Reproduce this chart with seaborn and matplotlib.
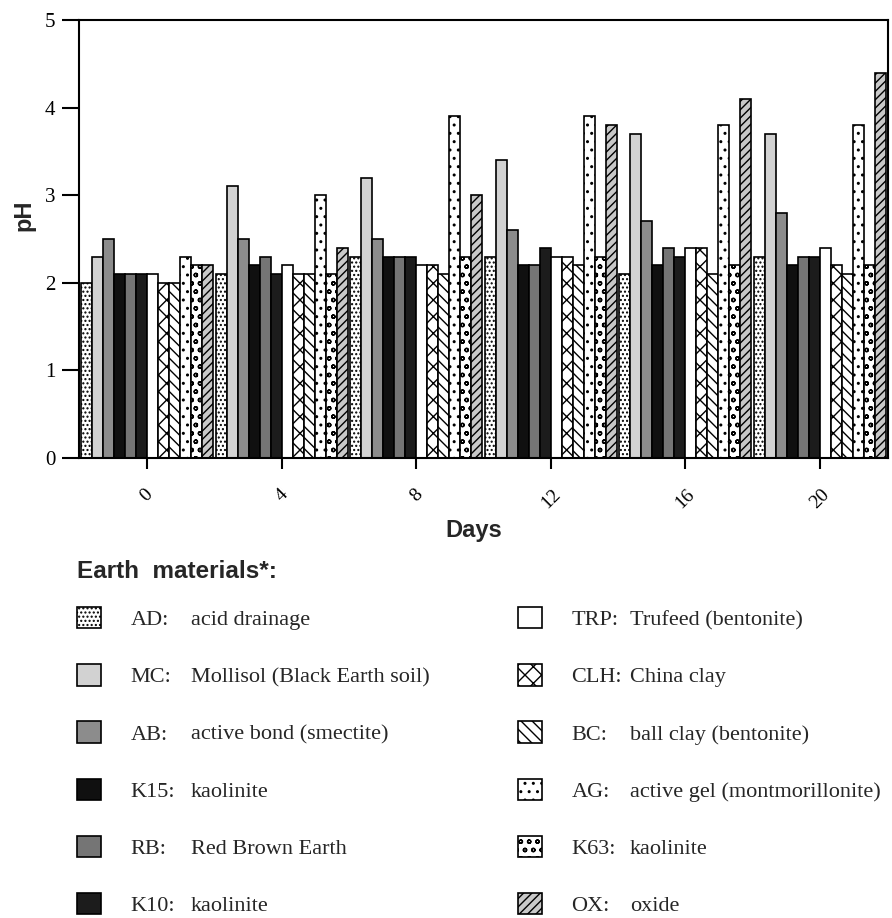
import matplotlib
matplotlib.use("Agg")
import matplotlib.pyplot as plt
import seaborn as sns
import pandas as pd

days = ["0", "4", "8", "12", "16", "20"]
codes = ["AD", "MC", "AB", "K15", "RB", "K10", "TRP", "CLH", "BC", "AG", "K63", "OX"]
descriptions = ["acid drainage", "Mollisol (Black Earth soil)", "active bond (smectite)",
                "kaolinite", "Red Brown Earth", "kaolinite",
                "Trufeed (bentonite)", "China clay", "ball clay (bentonite)",
                "active gel (montmorillonite)", "kaolinite", "oxide"]

ph_AD = [2.0, 2.1, 2.3, 2.3, 2.1, 2.3]
ph_MC = [2.3, 3.1, 3.2, 3.4, 3.7, 3.7]
ph_AB = [2.5, 2.5, 2.5, 2.6, 2.7, 2.8]
ph_K15 = [2.1, 2.2, 2.3, 2.2, 2.2, 2.2]
ph_RB = [2.1, 2.3, 2.3, 2.2, 2.4, 2.3]
ph_K10 = [2.1, 2.1, 2.3, 2.4, 2.3, 2.3]
ph_TRP = [2.1, 2.2, 2.2, 2.3, 2.4, 2.4]
ph_CLH = [2.0, 2.1, 2.2, 2.3, 2.4, 2.2]
ph_BC = [2.0, 2.1, 2.1, 2.2, 2.1, 2.1]
ph_AG = [2.3, 3.0, 3.9, 3.9, 3.8, 3.8]
ph_K63 = [2.2, 2.1, 2.3, 2.3, 2.2, 2.2]
ph_OX = [2.2, 2.4, 3.0, 3.8, 4.1, 4.4]

series = [ph_AD, ph_MC, ph_AB, ph_K15, ph_RB, ph_K10,
          ph_TRP, ph_CLH, ph_BC, ph_AG, ph_K63, ph_OX]

rows = []
for code, vals in zip(codes, series):
    for d, v in zip(days, vals):
        rows.append({"Day": d, "pH": v, "Material": code})
df = pd.DataFrame(rows)

face = {"AD": "white", "MC": "#d2d2d2", "AB": "#8c8c8c", "K15": "#101010",
        "RB": "#757575", "K10": "#1c1c1c", "TRP": "white", "CLH": "white",
        "BC": "white", "AG": "white", "K63": "white", "OX": "#c8c8c8"}
hatches = {"AD": "....", "MC": "", "AB": "", "K15": "", "RB": "", "K10": "",
           "TRP": "", "CLH": "xx", "BC": "\\\\\\", "AG": "..", "K63": "oo", "OX": "////"}

sns.set_theme(style="ticks")
plt.rcParams["font.family"] = ["Liberation Serif", "DejaVu Serif"]
plt.rcParams["hatch.linewidth"] = 1.0

W, H = 892, 918
fig = plt.figure(figsize=(W / 100, H / 100), dpi=100)
ax = fig.add_axes([79 / W, 1 - 458 / H, (888 - 79) / W, (458 - 20) / H])

sns.barplot(data=df, x="Day", y="pH", hue="Material", order=days, hue_order=codes,
            palette=face, edgecolor="black", linewidth=1.2, width=0.98, gap=0,
            errorbar=None, legend=False, saturation=1, ax=ax)

for code, cont in zip(codes, ax.containers):
    for bar in cont:
        bar.set_hatch(hatches[code])

ax.set_ylim(0, 5)
ax.set_xlim(-0.505, 5.505)
ax.set_yticks([0, 1, 2, 3, 4, 5])
for sp in ax.spines.values():
    sp.set_visible(True)
    sp.set_linewidth(1.5)
    sp.set_color("black")
ax.tick_params(axis="y", direction="out", length=12, width=1.5, labelsize=15, pad=5, colors="black")
ax.tick_params(axis="x", direction="out", length=8, width=1.5, labelsize=14, pad=12, colors="black")
for lab in ax.get_xticklabels():
    lab.set_rotation(45)
    lab.set_ha("center")

ax.set_xlabel("Days", fontsize=17, fontweight="bold", family=["Liberation Sans"])
ax.xaxis.set_label_coords(0.488, -0.14)
ax.set_ylabel("pH", fontsize=17, fontweight="bold", family=["Liberation Sans"])
ax.yaxis.set_label_coords(-0.054, 0.555)

fig.text(77 / W, 1 - 572 / H, "Earth  materials*:", fontsize=17.5, fontweight="bold",
         family=["Liberation Sans"], ha="left", va="center")

fs = 16
legend_kw = dict(loc="upper left", frameon=False, borderpad=0, borderaxespad=0,
                 handlelength=1.1, handleheight=1.1, handletextpad=1.3,
                 labelspacing=1.53, prop={"family": "Liberation Serif", "size": fs})
leg1 = fig.legend(handles=list(ax.containers[:6]), labels=[c + ":" for c in codes[:6]],
                  bbox_to_anchor=(77 / W, 1 - 607 / H), **legend_kw)
leg2 = fig.legend(handles=list(ax.containers[6:]), labels=[c + ":" for c in codes[6:]],
                  bbox_to_anchor=(518 / W, 1 - 607 / H), **legend_kw)

fig.canvas.draw()
inv = fig.transFigure.inverted()
for leg, descs, xpx in [(leg1, descriptions[:6], 191), (leg2, descriptions[6:], 630)]:
    for t, d in zip(leg.get_texts(), descs):
        bb = t.get_window_extent()
        yc = inv.transform(((bb.x0 + bb.x1) / 2, (bb.y0 + bb.y1) / 2))[1]
        fig.text(xpx / W, yc, d, fontsize=fs, family=["Liberation Serif"], ha="left", va="center")

fig.savefig("out.png", dpi=100)
